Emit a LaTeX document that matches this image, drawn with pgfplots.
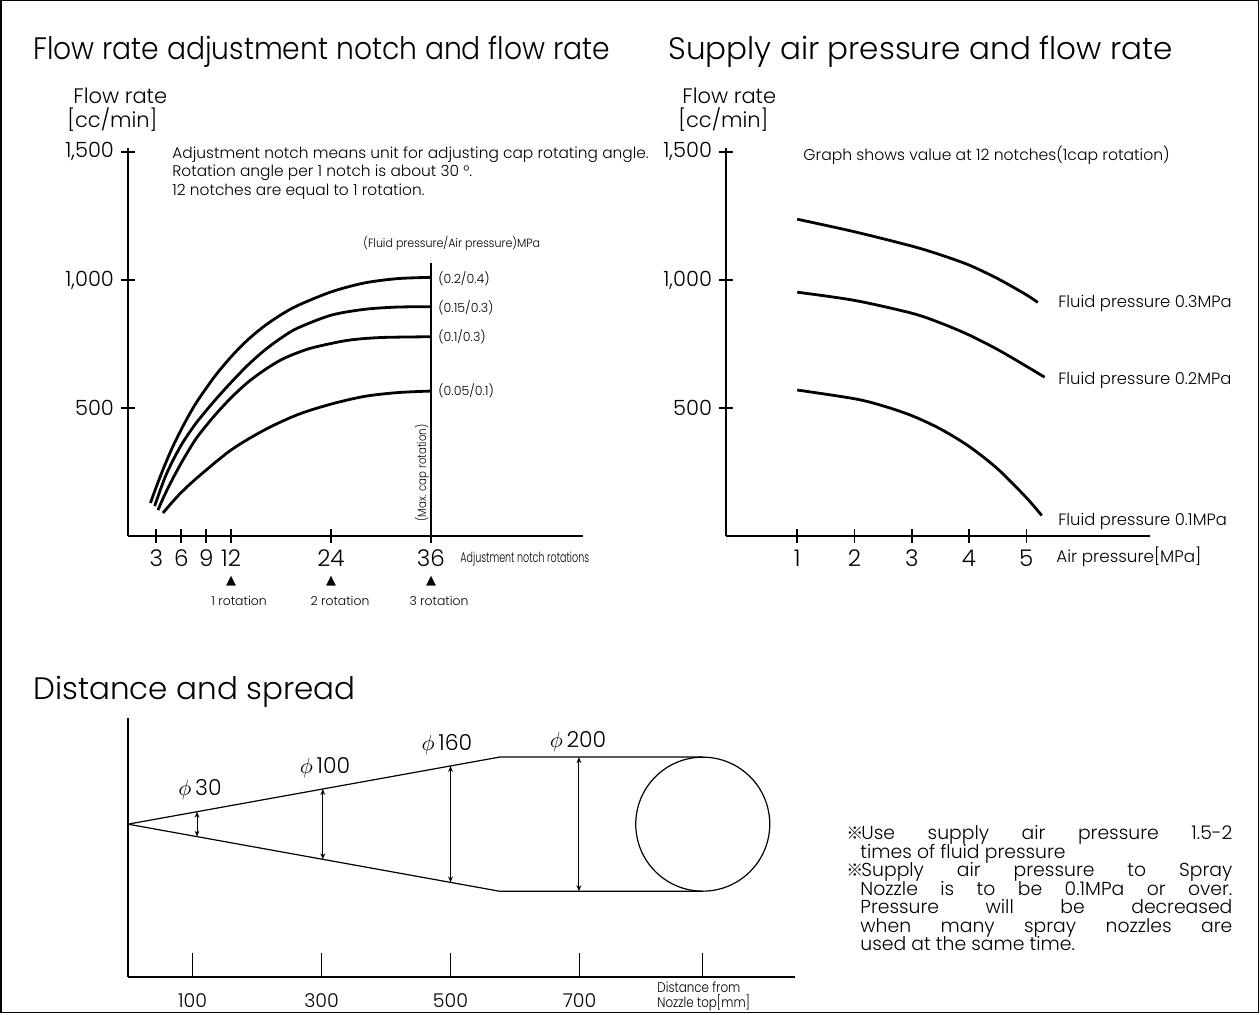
\documentclass[border=0pt]{standalone}
\usepackage{pgfplots}
\pgfplotsset{compat=1.18}
\usepackage{fontspec}
\usepackage{graphicx}
\usetikzlibrary{arrows.meta}
\setmainfont{Poppins}[UprightFont=* Light]
\newfontfamily\dejavu{DejaVu Sans}
\newfontfamily\cjk{Noto Sans CJK JP}
\newcommand\fs[1]{\fontsize{#1}{#1}\selectfont}
\newcommand\refmark{\makebox[6.5pt][c]{\cjk\fontsize{8.5}{8.5}\selectfont ※}}
\begin{document}
\begin{tikzpicture}[x=0.5pt,y=-0.5pt]
\useasboundingbox (0,0) rectangle (1260,1014);
\draw[line width=0.9pt] (1,0.5) rectangle (1258.5,1012.5);

\pgfplotsset{
  schem/.style={
    scale only axis, axis lines=left,
    axis line style={-, line width=1pt, black},
    tick style={line width=0.8pt, black},
    clip=false,
    /pgf/number format/assume math mode=true,
  }
}

% ---------- left panel ----------
\begin{axis}[schem,
  at={(64pt,-268pt)}, anchor=south west,
  width=227.5pt, height=194pt,
  xmin=-0.4, xmax=54.3, ymin=0, ymax=1515,
  xtick={3,6,9,12,24,36}, ytick={500,1000,1500},
  yticklabels={500,{1,000},{1,500}},
  tick align=center, major tick length=7pt,
  xticklabel style={font=\fs{11.5}},
  yticklabel style={font=\fs{10.5}},
]
\addplot[smooth, tension=0.5, line width=1.4pt] coordinates {(2.3,129)(3,192)(4,275)(5,350)(6,416)(7,476)(8,530)(10,622)(12,700)(14,766)(16,820)(18,864)(20,900)(24,953)(28,988)(32,1005)(36,1010)};
\addplot[smooth, tension=0.5, line width=1.4pt] coordinates {(2.8,117)(4,225)(5,295)(6,355)(7,405)(8,450)(10,528)(12,600)(14,667)(16,725)(18,773)(20,812)(24,862)(28,885)(32,894)(36,895)};
\addplot[smooth, tension=0.5, line width=1.4pt] coordinates {(3.2,101)(4,160)(5,225)(6,285)(7,340)(8,390)(10,470)(12,540)(14,600)(16,648)(18,688)(20,716)(22,737)(26,764)(30,775)(36,778)};
\addplot[smooth, tension=0.5, line width=1.4pt] coordinates {(3.8,90)(5,135)(6,170)(8,230)(12,336)(16,414)(20,474)(24,515)(28,545)(32,560)(36,566)};
\addplot[line width=0.9pt] coordinates {(36,0)(36,1065)};
\end{axis}

% ---------- right panel ----------
\begin{axis}[schem,
  at={(363pt,-268pt)}, anchor=south west,
  width=212pt, height=194pt,
  xmin=-0.244, xmax=7.16, ymin=0, ymax=1515,
  xtick={1,2,3,4,5}, ytick={500,1000,1500},
  yticklabels={500,{1,000},{1,500}},
  tick align=center, major tick length=7pt,
  xticklabel style={font=\fs{11.5}},
  yticklabel style={font=\fs{10.5}},
]
\addplot[smooth, tension=0.5, line width=1.4pt] coordinates {(1,1237)(2,1188)(3,1132)(3.5,1098)(4,1058)(4.5,1005)(5,942)(5.2,912)};
\addplot[smooth, tension=0.5, line width=1.4pt] coordinates {(1,952)(2,920)(3,870)(3.5,832)(4,785)(4.5,728)(5,663)(5.32,620)};
\addplot[smooth, tension=0.5, line width=1.4pt] coordinates {(1,570)(2,536)(2.5,508)(3,470)(3.5,418)(4,350)(4.5,262)(5,150)(5.27,80)};
\end{axis}

% ---------- bottom panel ----------
\begin{axis}[schem,
  at={(64pt,-488.5pt)}, anchor=south west,
  width=333.5pt, height=129.5pt,
  xmin=0, xmax=1034, ymin=0, ymax=401.6,
  xtick={100,300,500,700,890}, xticklabels={100,300,500,700,{}},
  ytick=\empty,
  tick align=inside, major tick length=12pt,
  tick style={line width=0.6pt, black},
  xticklabel style={font=\fs{9.5}, yshift=-5pt},
]
\addplot[line width=0.6pt] coordinates {(0,237)(576,341)(891,341)};
\addplot[line width=0.6pt] coordinates {(0,237)(576,133)(891,133)};
\addplot[line width=0.5pt, {Stealth[length=3pt,width=2.4pt]}-{Stealth[length=3pt,width=2.4pt]}] coordinates {(107,256.3)(107,217.7)};
\addplot[line width=0.5pt, {Stealth[length=3pt,width=2.4pt]}-{Stealth[length=3pt,width=2.4pt]}] coordinates {(302,291.5)(302,182.5)};
\addplot[line width=0.5pt, {Stealth[length=3pt,width=2.4pt]}-{Stealth[length=3pt,width=2.4pt]}] coordinates {(500,327.3)(500,146.7)};
\addplot[line width=0.5pt, {Stealth[length=3pt,width=2.4pt]}-{Stealth[length=3pt,width=2.4pt]}] coordinates {(699,341)(699,133)};
\coordinate (cc) at (axis cs:891,237);
\end{axis}
\draw[line width=0.6pt] (cc) circle[radius=33.5pt];

% ---------- texts ----------
\node[anchor=base west, inner sep=0, font=\fs{15.5}] at (33,59) {\scalebox{0.91}[1]{Flow rate adjustment notch and flow rate}};
\node[anchor=base west, inner sep=0, font=\fs{15.5}] at (668,59) {Supply air pressure and flow rate};
\node[anchor=base west, inner sep=0, font=\fs{15.5}] at (33,699) {Distance and spread};

\node[anchor=base west, inner sep=0, font=\fs{10.5}] at (73,103) {Flow rate};
\node[anchor=base west, inner sep=0, font=\fs{10.5}] at (67,127) {[cc/min]};
\node[anchor=base west, inner sep=0, font=\fs{10.5}] at (682,103) {Flow rate};
\node[anchor=base west, inner sep=0, font=\fs{10.5}] at (678,127) {[cc/min]};

\node[anchor=base west, inner sep=0, font=\fs{7.7}] at (172,158) {Adjustment notch means unit for adjusting cap rotating angle.};
\node[anchor=base west, inner sep=0, font=\fs{7.7}] at (172,176) {Rotation angle per 1 notch is about 30 °.};
\node[anchor=base west, inner sep=0, font=\fs{7.7}] at (172,195) {12 notches are equal to 1 rotation.};

\node[anchor=base west, inner sep=0, font=\fs{6}] at (363,247) {\scalebox{0.92}[1]{(Fluid pressure/Air pressure)MPa}};
\node[anchor=base west, inner sep=0, font=\fs{6.3}] at (438,283) {(0.2/0.4)};
\node[anchor=base west, inner sep=0, font=\fs{6.3}] at (438,312) {(0.15/0.3)};
\node[anchor=base west, inner sep=0, font=\fs{6.3}] at (438,341) {(0.1/0.3)};
\node[anchor=base west, inner sep=0, font=\fs{6.3}] at (438,395) {(0.05/0.1)};
\node[rotate=90, inner sep=0, font=\fs{6}] at (422,473) {\scalebox{0.85}[1]{(Max. cap rotation)}};
\node[anchor=base west, inner sep=0, font=\fs{7}] at (460,562) {\scalebox{0.68}[1]{Adjustment notch rotations}};
\foreach \xx in {231,331,431} \node[inner sep=0, font=\dejavu\fs{6.5}] at (\xx,581) {▲};
\node[inner sep=0, font=\fs{6.2}] at (239,601) {1 rotation};
\node[inner sep=0, font=\fs{6.2}] at (340,601) {2 rotation};
\node[inner sep=0, font=\fs{6.2}] at (439,601) {3 rotation};

\node[anchor=base west, inner sep=0, font=\fs{7.8}] at (803,160) {Graph shows value at 12 notches(1cap rotation)};
\node[anchor=base west, inner sep=0, font=\fs{8.2}] at (1058,307) {Fluid pressure 0.3MPa};
\node[anchor=base west, inner sep=0, font=\fs{8.2}] at (1058,384) {Fluid pressure 0.2MPa};
\node[anchor=base west, inner sep=0, font=\fs{8.2}] at (1058,525) {Fluid pressure 0.1MPa};
\node[anchor=base west, inner sep=0, font=\fs{8.4}] at (1056,562) {Air pressure[MPa]};

\node[inner sep=0, font=\fs{11}] at (200,790) {$\phi$\,30};
\node[inner sep=0, font=\fs{11}] at (325,768) {$\phi$\,100};
\node[inner sep=0, font=\fs{11}] at (447,745) {$\phi$\,160};
\node[inner sep=0, font=\fs{11}] at (578,742) {$\phi$\,200};
\node[anchor=north west, inner sep=0, align=left, font=\fontsize{7}{7.8}\selectfont] at (657,981) {\scalebox{0.85}[1]{Distance from}\\\scalebox{0.85}[1]{Nozzle top[mm]}};

\node[anchor=north west, inner sep=0, text width=192pt, align=justify, font=\fontsize{9.4}{9.25}\selectfont] at (848,825) {%
\lineskiplimit=-20pt\lineskip=0pt
\hangindent=6pt\hangafter=1 \refmark Use supply air pressure 1.5-2\linebreak times of fluid pressure\par
\hangindent=6pt\hangafter=1 \refmark Supply air pressure to Spray\linebreak Nozzle is to be 0.1MPa or over.\linebreak Pressure will be decreased\linebreak when many spray nozzles are\linebreak used at the same time.\par};
\end{tikzpicture}
\end{document}
